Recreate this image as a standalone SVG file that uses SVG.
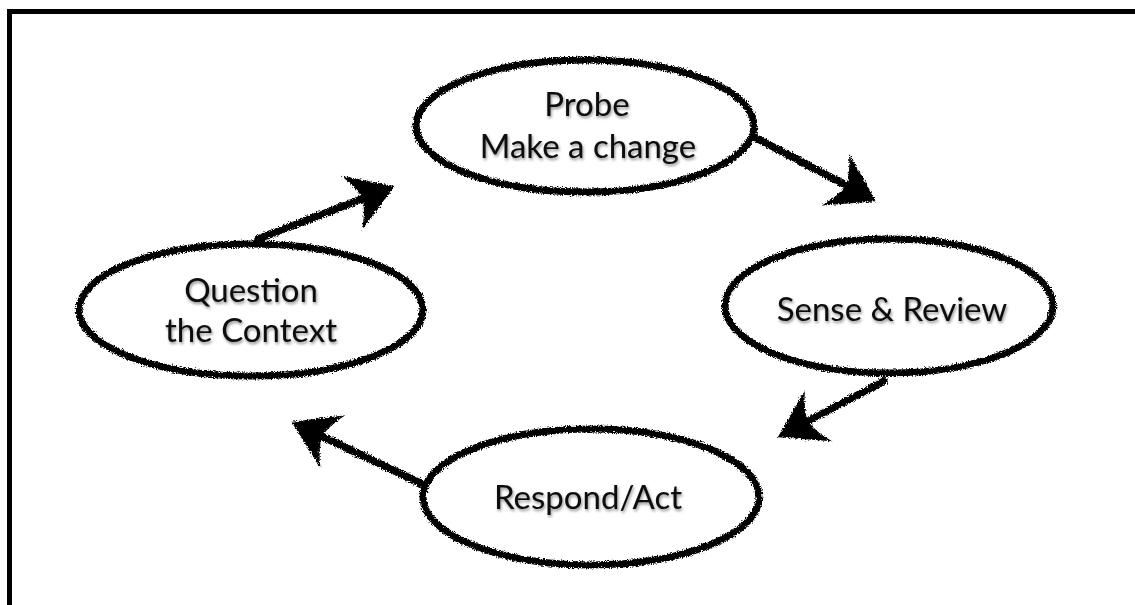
<svg xmlns="http://www.w3.org/2000/svg" width="1135" height="605" viewBox="0 0 1135 605">
  <defs>
    <filter id="rough" x="-10%" y="-10%" width="120%" height="120%">
      <feTurbulence type="fractalNoise" baseFrequency="0.8" numOctaves="3" seed="3" result="n"/>
      <feDisplacementMap in="SourceGraphic" in2="n" scale="5" xChannelSelector="R" yChannelSelector="G"/>
    </filter>
    <filter id="shadow" x="-10%" y="-20%" width="120%" height="140%">
      <feGaussianBlur in="SourceAlpha" stdDeviation="1.5" result="b"/>
      <feOffset in="b" dx="1" dy="2" result="o"/>
      <feComponentTransfer in="o" result="s"><feFuncA type="linear" slope="0.45"/></feComponentTransfer>
      <feMerge><feMergeNode in="s"/><feMergeNode in="SourceGraphic"/></feMerge>
    </filter>
    <marker id="head" markerUnits="userSpaceOnUse" viewBox="-30 -30 60 60" refX="0" refY="0" markerWidth="60" markerHeight="60" orient="auto" overflow="visible">
      <path d="M24,0 L-22,-29 Q-12,-13 -10,0 Q-12,13 -22,29 Z" fill="#000"/>
    </marker>
  </defs>
  <style>
    .frame { fill: none; stroke: #000; stroke-width: 5; }
    .node ellipse { fill: none; stroke: #000; stroke-width: 7; }
    .node text { font-family: "Lato", "Open Sans", "Liberation Sans", sans-serif; font-size: 33px; fill: #0a0a0a; text-anchor: middle; }
    .conn path { fill: none; stroke: #000; stroke-width: 7.5; stroke-linecap: round; marker-end: url(#head); }
  </style>
  <rect width="1135" height="605" fill="#fff"/>
  <path class="frame" d="M9.5,605 L9.5,11.5 L1135,11.5"/>

  <g id="connectors" class="conn" filter="url(#rough)">
    <path d="M258,239 L372,195"/>
    <path d="M756,138 L855,190"/>
    <path d="M884,381 L799,426"/>
    <path d="M420,483 L313,432"/>
  </g>

  <g id="node-probe" class="node">
    <ellipse cx="585" cy="126" rx="169" ry="66" filter="url(#rough)"/>
    <g filter="url(#shadow)">
      <text x="587" y="116">Probe</text>
      <text x="588" y="158">Make a change</text>
    </g>
  </g>

  <g id="node-question" class="node">
    <ellipse cx="251" cy="310" rx="172" ry="66" filter="url(#rough)"/>
    <g filter="url(#shadow)">
      <text x="251" y="302">Question</text>
      <text x="251" y="342">the Context</text>
    </g>
  </g>

  <g id="node-sense" class="node">
    <ellipse cx="889" cy="306" rx="164" ry="67" filter="url(#rough)"/>
    <g filter="url(#shadow)">
      <text x="892" y="321">Sense &amp; Review</text>
    </g>
  </g>

  <g id="node-respond" class="node">
    <ellipse cx="591" cy="497" rx="168" ry="68" filter="url(#rough)"/>
    <g filter="url(#shadow)">
      <text x="588" y="509">Respond/Act</text>
    </g>
  </g>
</svg>
